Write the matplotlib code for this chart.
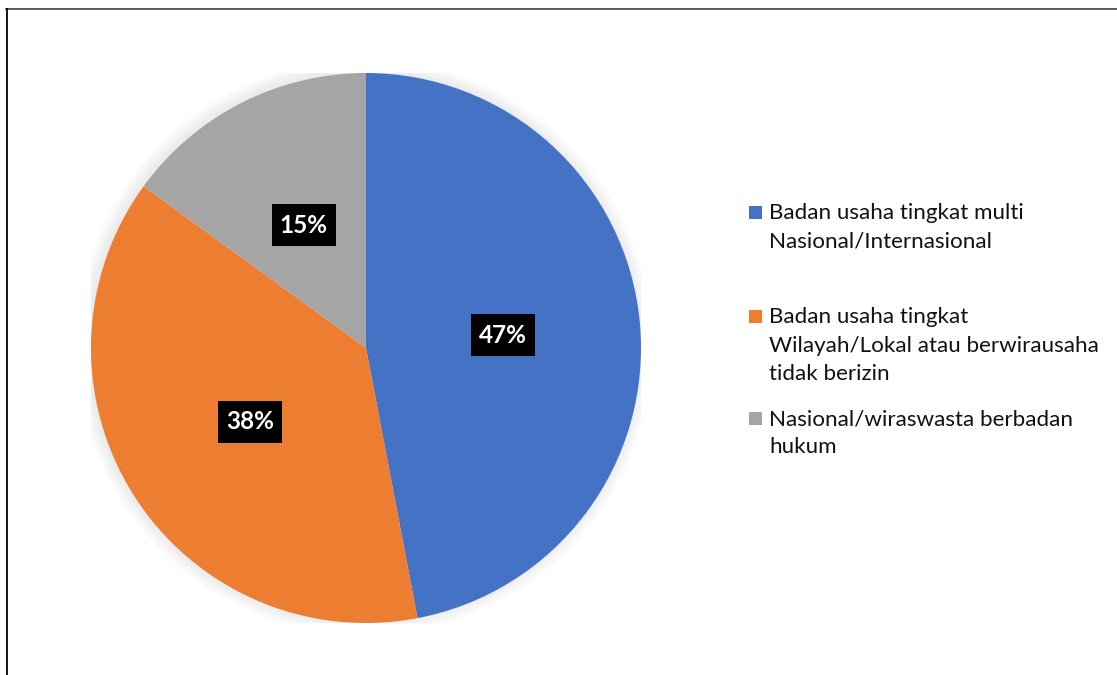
import matplotlib
matplotlib.use("Agg")
import matplotlib.pyplot as plt
from matplotlib.patches import Rectangle, Circle
from matplotlib.lines import Line2D

# ---- data ----
categories = [
    "Badan usaha tingkat multi\nNasional/Internasional",
    "Badan usaha tingkat\nWilayah/Lokal atau berwirausaha\ntidak berizin",
    "Nasional/wiraswasta berbadan\nhukum",
]
values = [47, 38, 15]
colors = ["#4472C4", "#ED7D31", "#A5A5A5"]

W, H = 1117, 675
fig = plt.figure(figsize=(W / 100, H / 100), dpi=100)
fig.patch.set_facecolor("white")

# pie axes (pixel box 91..641 x 73..623)
ax = fig.add_axes([91 / W, (H - 623) / H, 550 / W, 550 / H])
ax.set_xlim(-1, 1)
ax.set_ylim(-1, 1)
ax.set_aspect("equal")
ax.axis("off")

# soft shadow (offset slightly up-left)
for i in range(10):
    ax.add_patch(Circle((-0.006, 0.004), 1 + 0.005 * (i + 1), color="black",
                        alpha=0.007, lw=0, zorder=0))

wedges, texts, autotexts = ax.pie(
    values, colors=colors, startangle=90, counterclock=False,
    radius=1, autopct="%1.0f%%", pctdistance=0.5,
    wedgeprops=dict(linewidth=0), frame=False,
    textprops=dict(color="white", fontsize=17.5, fontweight="bold",
                   family="Lato"))
ax.set_xlim(-1, 1)
ax.set_ylim(-1, 1)

bw, bh = 64 / 275, 42 / 275
for t in autotexts:
    t.set_zorder(5)
    t.set_va("center")
    t.set_ha("center")
    x, y = t.get_position()
    ax.add_patch(Rectangle((x - bw / 2, y - bh / 2), bw, bh,
                           facecolor="black", edgecolor="none", zorder=4))

# legend (manual, Excel-like layout)
sq = 13
lx_sq = 749
lx_txt = 769
baselines = [[219, 248], [323, 352, 380], [425, 453]]
for lab, col, bls in zip(categories, colors, baselines):
    lines = lab.split("\n")
    fig.patches.append(Rectangle((lx_sq / W, (H - bls[0]) / H), sq / W, sq / H,
                                 transform=fig.transFigure, facecolor=col,
                                 edgecolor="none"))
    for ln, by in zip(lines, bls):
        fig.text(lx_txt / W, (H - by) / H, ln, fontsize=16.1, family="Lato",
                 color="#111111", ha="left", va="baseline")

# frame lines (top and left only)
fig.add_artist(Line2D([6 / W, 1], [(H - 8) / H, (H - 8) / H],
                      transform=fig.transFigure, color="#9a9a9a", lw=0.8))
fig.add_artist(Line2D([6 / W, 1], [(H - 9.3) / H, (H - 9.3) / H],
                      transform=fig.transFigure, color="#4a4a4a", lw=1.2))
fig.add_artist(Line2D([6.5 / W, 6.5 / W], [0, (H - 9) / H],
                      transform=fig.transFigure, color="black", lw=1.3))

fig.savefig("out.png", dpi=100)
